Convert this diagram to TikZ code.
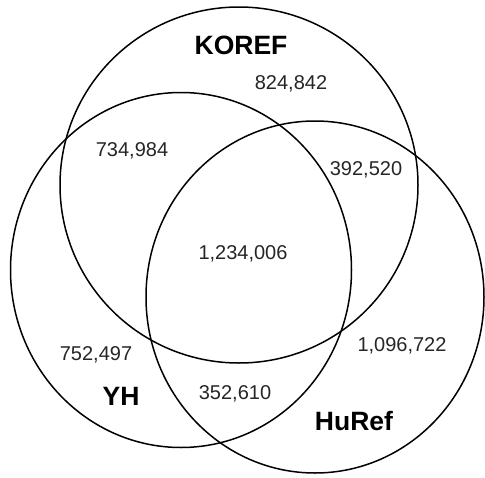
\documentclass[tikz,border=0pt]{standalone}
\usepackage{fontspec}
\setmainfont{Liberation Sans}
\begin{document}
\begin{tikzpicture}[x=1pt,y=-1pt,
  setline/.style={line width=1.5pt, black},
  num/.style={font=\fontsize{20}{20}\selectfont, inner sep=0pt, text=black!85},
  setname/.style={font=\fontsize{26.5}{26.5}\selectfont\bfseries, inner sep=0pt}]
\useasboundingbox (0,0) rectangle (485,477);
\fill[white] (0,0) rectangle (485,477);
\draw[setline] (239,185) ellipse [x radius=179, y radius=178];
\draw[setline] (181,270) ellipse [x radius=170.5, y radius=177.5];
\draw[setline] (315,297) ellipse [x radius=169, y radius=176];
\node[setname] (koref) at (241,45) {KOREF};
\node[setname] (yh) at (121,396) {YH};
\node[setname] (huref) at (354,421) {HuRef};
\node[num] (a) at (291,84) {824,842};
\node[num] (b) at (132,151) {734,984};
\node[num] (c) at (366,170) {392,520};
\node[num] (d) at (243,254) {1,234,006};
\node[num] (e) at (96,355) {752,497};
\node[num] (f) at (402,346) {1,096,722};
\node[num] (g) at (235,394) {352,610};
\end{tikzpicture}
\end{document}
